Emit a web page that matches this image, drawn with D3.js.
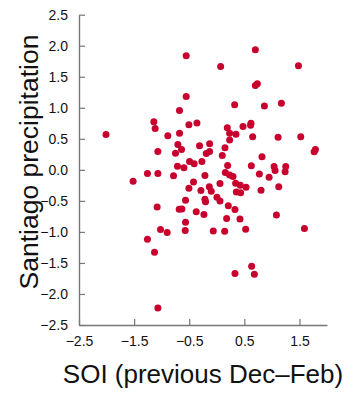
<!DOCTYPE html>
<html><head><meta charset="utf-8">
<script src="https://cdn.jsdelivr.net/npm/d3@7"></script>
<style>body{margin:0;background:#fff}svg{display:block}text{font-family:"Liberation Sans",Arial,sans-serif}</style>
</head><body><svg id="c" width="360" height="400"></svg>
<script>
const soi = [-2.01,-0.555,-0.555,-0.676,-0.506,-0.36,-1.142,-1.118,-0.888,-0.676,-0.706,-1.069,-0.64,-0.749,-0.313,-0.713,-0.596,-0.494,-0.41,-0.27,-1.258,-1.069,-0.785,-1.518,-0.422,-0.506,-0.567,-1.082,-0.682,-0.633,-0.373,-0.567,-1.021,-0.9,-0.573,-1.258,-1.13,-1.069,0.7,0.07,1.482,0.7,0.736,0.324,0.864,1.173,0.191,0.476,0.62,0.614,0.233,0.348,0.651,1.113,1.524,0.233,-0.13,0.149,-0.191,-0.13,0.1,1.79,1.767,0.821,0.197,0.627,1.04,1.058,1.251,1.24,-0.215,0.155,0.233,0.294,0.773,0.949,1.124,-0.288,-0.136,-0.1,0.058,0.342,0.427,0.531,0.355,0.433,0.803,-0.215,-0.204,0.003,0.058,-0.233,0.209,0.33,0.179,0.421,-0.064,0.143,0.524,1.082,1.59,0.33,0.633,0.682];
const precip = [0.57,1.84,1.18,0.956,0.726,0.753,0.774,0.667,0.548,0.591,0.409,0.296,0.328,0.269,0.387,0.06,0.032,0.134,0.097,0.134,-0.06,-0.06,-0.097,-0.183,-0.194,-0.296,-0.489,-0.597,-0.634,-0.629,-0.677,-0.844,-0.962,-1.01,-0.978,-1.118,-1.328,-2.226,1.935,1.666,1.677,1.36,1.387,1.048,1.027,1.075,0.677,0.699,0.75,0.72,0.59,0.575,0.532,0.527,0.532,0.479,0.419,0.355,0.263,0.296,0.231,0.328,0.29,0.21,0.07,0.065,0.054,-0.01,0.054,-0.03,-0.091,-0.043,-0.081,-0.108,-0.065,-0.118,-0.274,-0.334,-0.274,-0.344,-0.221,-0.215,-0.247,-0.279,-0.355,-0.371,-0.328,-0.473,-0.516,-0.441,-0.5,-0.72,-0.58,-0.64,-0.785,-0.79,-0.984,-0.989,-0.957,-0.726,-0.946,-1.672,-1.554,-1.683];
const xTicks = [-2.5,-1.5,-0.5,0.5,1.5];
const yTicks = [-2.5,-2.0,-1.5,-1.0,-0.5,0.0,0.5,1.0,1.5,2.0,2.5];
const xTitle = "SOI (previous Dec–Feb)";
const yTitle = "Santiago precipitation";

const svg = d3.select("#c");
const x = d3.scaleLinear().domain([-2.5,2.0]).range([79,327]);
const y = d3.scaleLinear().domain([-2.5,2.5]).range([325,14.7]);

const gx = svg.append("g").attr("transform","translate(0,325)")
  .call(d3.axisBottom(x).tickValues(xTicks).tickSizeInner(-6).tickSizeOuter(0).tickPadding(12).tickFormat(d3.format(".1f")));
const gy = svg.append("g").attr("transform","translate(79,0)")
  .call(d3.axisLeft(y).tickValues(yTicks).tickSizeInner(-6).tickSizeOuter(0).tickPadding(11).tickFormat(d3.format(".1f")));
[gx,gy].forEach(g=>{
  g.select(".domain").attr("stroke","#777").attr("stroke-width",1.4);
  g.selectAll(".tick line").attr("stroke","#777").attr("stroke-width",1.2);
  g.selectAll(".tick text").attr("fill","#111").style("font-size","14px").style("font-family","'Liberation Sans',Arial,sans-serif");
});
gx.selectAll(".tick text").attr("dy","0.66em");

svg.append("g").selectAll("circle").data(soi.map((s,i)=>[s,precip[i]])).join("circle")
  .attr("cx",d=>x(d[0])).attr("cy",d=>y(d[1])).attr("r",3.5).attr("fill","#c8002d");

svg.append("text").attr("x",203).attr("y",383).attr("text-anchor","middle")
  .style("font-size","26px").attr("fill","#111").text(xTitle);
svg.append("text").attr("transform","translate(38,162) rotate(-90)").attr("text-anchor","middle")
  .style("font-size","26.5px").attr("fill","#111").text(yTitle);
</script></body></html>
